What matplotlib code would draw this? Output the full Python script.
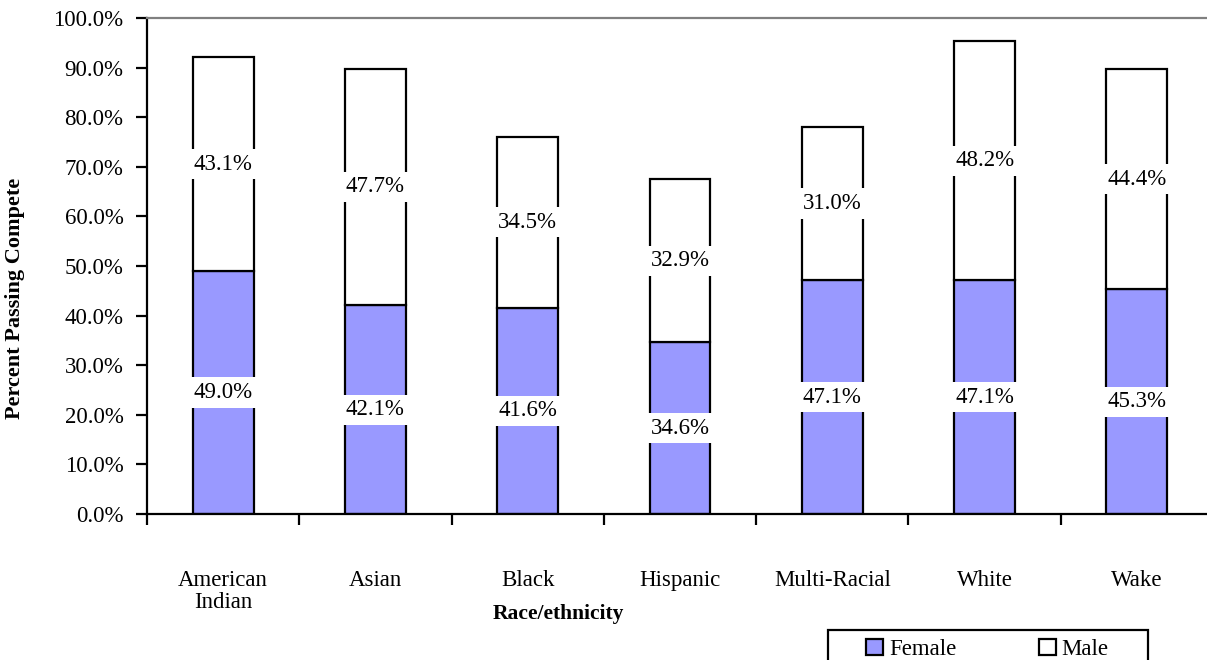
import numpy as np
import matplotlib.pyplot as plt
from matplotlib.patches import Patch, Rectangle

# Datos
categories = ['American\nIndian', 'Asian', 'Black', 'Hispanic', 'Multi-Racial', 'White', 'Wake']
female = [49.0, 42.1, 41.6, 34.6, 47.1, 47.1, 45.3]
male = [43.1, 47.7, 34.5, 32.9, 31.0, 48.2, 44.4]

plt.rcParams['font.family'] = ['Liberation Serif', 'DejaVu Serif']
fs = 16.5

fig = plt.figure(figsize=(12.07, 6.6), dpi=100)
W, H = 1207, 660
# axes area in pixels: x 147..1213, y 18..514
ax = fig.add_axes([147 / W, (H - 514) / H, (1213 - 147) / W, (514 - 18) / H])

x = np.arange(len(categories))
bw = 0.4
ax.bar(x, female, bw, color='#9999ff', edgecolor='black', linewidth=1.6, zorder=2)
ax.bar(x, male, bw, bottom=female, color='white', edgecolor='black', linewidth=1.6, zorder=2)

box = dict(boxstyle='square,pad=0.2', facecolor='white', edgecolor='none')
for i in range(len(categories)):
    ax.text(x[i], female[i] / 2, f'{female[i]:.1f}%', ha='center', va='center',
            fontsize=fs, bbox=box, zorder=3)
    ax.text(x[i], female[i] + male[i] / 2, f'{male[i]:.1f}%', ha='center', va='center',
            fontsize=fs, bbox=box, zorder=3)

ax.set_xlim(-0.5, len(categories) - 0.5)
ax.set_ylim(0, 100)
ax.set_yticks(np.arange(0, 101, 10))
ax.set_yticklabels([f'{v:.1f}%' for v in np.arange(0, 101, 10)], fontsize=fs)
ax.set_xticks(np.arange(-0.5, len(categories), 1))
ax.set_xticklabels([])
ax.set_xticks(x, minor=True)
ax.set_xticklabels(categories, minor=True, fontsize=fs, linespacing=1.1)
ax.tick_params(axis='x', which='minor', length=0, pad=40)
ax.tick_params(axis='x', which='major', direction='out', length=8, width=1.6)
ax.tick_params(axis='y', direction='out', length=8, width=1.6, pad=9)

ax.spines['right'].set_visible(False)
ax.spines['top'].set_color('#808080')
ax.spines['top'].set_linewidth(1.6)
ax.spines['left'].set_linewidth(1.6)
ax.spines['bottom'].set_linewidth(1.6)

fig.text(15 / W, 1 - 298 / H, 'Percent Passing Compete', rotation=90, ha='center', va='center',
         fontsize=16, fontweight='bold')
fig.text(558 / W, 1 - 614 / H, 'Race/ethnicity', ha='center', va='center',
         fontsize=15.5, fontweight='bold')

# caja de la leyenda (recortada abajo como en el original)
fig.patches.append(Rectangle((828 / W, -0.01), (1148 - 828) / W, (H - 630) / H + 0.01,
                             transform=fig.transFigure, facecolor='white',
                             edgecolor='black', linewidth=1.6))
handles = [Patch(facecolor='#9999ff', edgecolor='black', linewidth=1.6, label='Female'),
           Patch(facecolor='white', edgecolor='black', linewidth=1.6, label='Male')]
fig.legend(handles=handles, ncol=2, loc='upper left', bbox_to_anchor=(866 / W, 1 - 639 / H),
           frameon=False, fontsize=fs, handlelength=0.75, handleheight=0.65,
           handletextpad=0.25, columnspacing=3.6, borderpad=0, borderaxespad=0)

fig.savefig('out.png', dpi=100)
